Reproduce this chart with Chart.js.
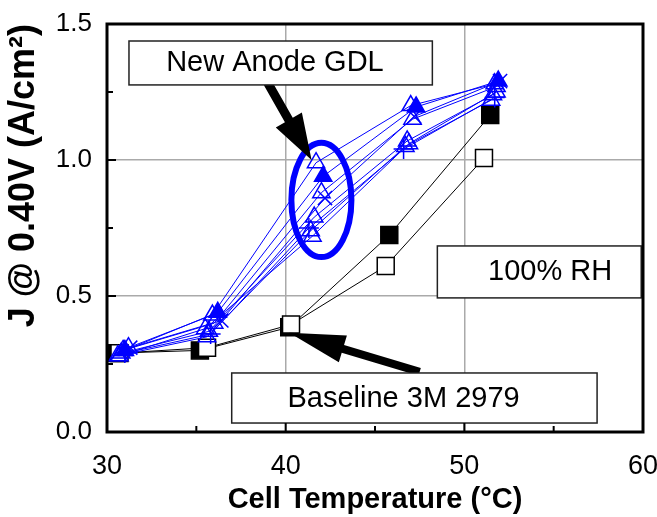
<!DOCTYPE html>
<html><head><meta charset="utf-8">
<script src="https://cdn.jsdelivr.net/npm/chart.js@4/dist/chart.umd.min.js"></script>
<style>html,body{margin:0;padding:0;background:#fff}#wrap{width:657px;height:517px}</style>
</head><body><div id="wrap"><canvas id="c" width="657" height="517"></canvas></div>
<script>
// ---- data (Cell temperature °C, J @ 0.40 V in A/cm²) ----
const xTicks = [30, 40, 50, 60];
const yTicks = [0.0, 0.5, 1.0, 1.5];

// New anode GDL runs (blue)
const gdl1X = [31.0, 36.2, 42.1, 47.3, 51.9], gdl1Y = [0.30, 0.44, 0.94, 1.195, 1.29]; // filled triangle
const gdl2X = [31.2, 35.9, 41.7, 47.0, 51.7], gdl2Y = [0.31, 0.43, 0.99, 1.20, 1.28];
const gdl3X = [30.9, 36.0, 42.0, 47.1, 51.8], gdl3Y = [0.30, 0.40, 0.88, 1.15, 1.27];
const gdl4X = [31.3, 36.4, 42.2, 47.2, 52.0], gdl4Y = [0.31, 0.41, 0.86, 1.16, 1.29]; // x marks
const gdl5X = [30.8, 35.7, 41.6, 46.8, 51.6], gdl5Y = [0.29, 0.37, 0.79, 1.07, 1.24];
const gdl6X = [30.6, 35.6, 41.4, 46.7, 51.5], gdl6Y = [0.28, 0.35, 0.74, 1.05, 1.22];
const gdl7X = [31.0, 35.8, 41.3, 46.6, 51.7], gdl7Y = [0.29, 0.36, 0.75, 1.04, 1.23]; // + marks
const gdl8X = [30.7, 35.5, 41.5, 46.9, 51.8], gdl8Y = [0.28, 0.38, 0.72, 1.06, 1.25];

// Baseline 3M 2979 (black)
const baseOpenX = [30.7, 35.6, 40.3, 45.6, 51.1], baseOpenY = [0.29, 0.31, 0.395, 0.61, 1.007];
const baseFillX = [30.5, 35.2, 40.2, 45.8, 51.45], baseFillY = [0.29, 0.30, 0.385, 0.724, 1.165];

// annotation labels
const labelAnode = 'New Anode GDL', labelRH = '100% RH', labelBase = 'Baseline 3M 2979';

const pts = (xs, ys) => xs.map((x, i) => ({x, y: ys[i]}));
const BLUE = '#0000ff';
function blue(xs, ys, style, filled) {
  return {data: pts(xs, ys), showLine: true, borderColor: BLUE, borderWidth: 1,
    pointStyle: style, pointRadius: 10, pointBorderWidth: 1.5,
    pointBackgroundColor: filled ? BLUE : 'rgba(0,0,0,0)', pointBorderColor: BLUE};
}
function black(xs, ys, filled) {
  return {data: pts(xs, ys), showLine: true, borderColor: '#000', borderWidth: 1,
    pointStyle: 'rect', pointRadius: 12, pointBorderWidth: 1.5,
    pointBackgroundColor: filled ? '#000' : '#fff', pointBorderColor: '#000'};
}

const FONT = "'Liberation Sans', Arial, sans-serif";

const deco = {
  id: 'deco',
  afterDatasetsDraw(chart) {
    const {ctx, scales: {x, y}} = chart;
    const X = v => x.getPixelForValue(v), Y = v => y.getPixelForValue(v);
    ctx.save();
    // ellipse
    ctx.strokeStyle = BLUE; ctx.lineWidth = 6;
    ctx.beginPath();
    ctx.ellipse(X(42.0), Y(0.853), X(42.0 + 1.68) - X(42.0), Y(0.853) - Y(0.853 + 0.21), 0, 0, 2 * Math.PI);
    ctx.stroke();
    // arrows
    function arrow(x0, y0, x1, y1, shaftW, headL, headW) {
      const ax = X(x0), ay = Y(y0), bx = X(x1), by = Y(y1);
      const ang = Math.atan2(by - ay, bx - ax), len = Math.hypot(bx - ax, by - ay);
      ctx.save(); ctx.translate(ax, ay); ctx.rotate(ang);
      ctx.fillStyle = '#000'; ctx.beginPath();
      ctx.moveTo(0, -shaftW / 2); ctx.lineTo(len - headL, -shaftW / 2);
      ctx.lineTo(len - headL, -headW / 2); ctx.lineTo(len, 0);
      ctx.lineTo(len - headL, headW / 2); ctx.lineTo(len - headL, shaftW / 2);
      ctx.lineTo(0, shaftW / 2); ctx.closePath(); ctx.fill();
      ctx.restore();
    }
    arrow(39.0, 1.283, 41.45, 1.0, 9, 46, 30);
    arrow(47.5, 0.221, 40.2, 0.365, 8, 56, 28);
    // boxes
    function box(x0, x1, y0, y1, text, tx, ty) {
      const l = X(x0), r = X(x1), t = Y(y0), b = Y(y1);
      ctx.fillStyle = '#fff'; ctx.fillRect(l, t, r - l, b - t);
      ctx.strokeStyle = '#222'; ctx.lineWidth = 1.5; ctx.strokeRect(l, t, r - l, b - t);
      ctx.fillStyle = '#000'; ctx.font = '29px ' + FONT;
      ctx.textAlign = 'center'; ctx.textBaseline = 'middle';
      ctx.fillText(text, X(tx), Y(ty));
    }
    box(31.23, 48.21, 1.4375, 1.276, labelAnode, 39.4, 1.357);
    box(48.49, 59.9, 0.684, 0.493, labelRH, 54.8, 0.588);
    box(36.98, 57.43, 0.217, 0.033, labelBase, 46.6, 0.121);
    ctx.restore();
  },
  afterDraw(chart) {
    const {ctx, chartArea: a, scales: {x, y}} = chart;
    ctx.save();
    ctx.strokeStyle = '#000'; ctx.lineWidth = 3;
    ctx.strokeRect(a.left, a.top, a.right - a.left, a.bottom - a.top);
    ctx.lineWidth = 2;
    for (let v = 35; v < 60; v += 5) {
      const px = x.getPixelForValue(v), L = v % 10 === 0 ? 9 : 6;
      ctx.beginPath(); ctx.moveTo(px, a.bottom); ctx.lineTo(px, a.bottom - L); ctx.stroke();
    }
    for (let v = 0.25; v < 1.5; v += 0.25) {
      const py = y.getPixelForValue(v), L = Math.abs(v % 0.5) < 1e-6 ? 9 : 6;
      ctx.beginPath(); ctx.moveTo(a.left, py); ctx.lineTo(a.left + L, py); ctx.stroke();
    }
    ctx.restore();
  }
};

new Chart(document.getElementById('c'), {
  type: 'scatter',
  data: {datasets: [
    blue(gdl1X, gdl1Y, 'triangle', true),
    blue(gdl2X, gdl2Y, 'triangle', false),
    blue(gdl3X, gdl3Y, 'triangle', false),
    blue(gdl4X, gdl4Y, 'crossRot', false),
    blue(gdl5X, gdl5Y, 'triangle', false),
    blue(gdl6X, gdl6Y, 'triangle', false),
    blue(gdl7X, gdl7Y, 'cross', false),
    blue(gdl8X, gdl8Y, 'triangle', false),
    black(baseOpenX, baseOpenY, false),
    black(baseFillX, baseFillY, true)
  ]},
  options: {
    responsive: false, animation: false, devicePixelRatio: 1,
    layout: {padding: {left: 0, right: 14, top: 24, bottom: 0}},
    plugins: {legend: {display: false}, tooltip: {enabled: false}},
    scales: {
      x: {min: 30, max: 60,
        afterFit: s => { s.height = 85; s.paddingLeft = 0; s.paddingRight = 0; },
        afterBuildTicks: s => { s.ticks = [30,35,40,45,50,55,60].map(v => ({value: v})); },
        ticks: {padding: 18, color: '#000', font: {family: FONT, size: 27},
          callback: v => xTicks.includes(v) ? String(v) : ''},
        grid: {drawTicks: false, lineWidth: 1.5,
          color: c => (c.tick && (c.tick.value === 40 || c.tick.value === 50)) ? '#aaa' : 'rgba(0,0,0,0)'},
        border: {display: false},
        title: {display: true, text: 'Cell Temperature (°C)', color: '#000',
          font: {family: FONT, size: 29, weight: 'bold'}, padding: {top: 0, bottom: 0}}
      },
      y: {min: 0, max: 1.5,
        afterFit: s => { s.width = 107; s.paddingTop = 0; s.paddingBottom = 0; },
        afterBuildTicks: s => { s.ticks = [0,0.25,0.5,0.75,1,1.25,1.5].map(v => ({value: v})); },
        ticks: {padding: 15, color: '#000', font: {family: FONT, size: 26},
          callback: v => yTicks.includes(v) ? v.toFixed(1) : ''},
        grid: {drawTicks: false, lineWidth: 1.5,
          color: c => (c.tick && (c.tick.value === 0.5 || c.tick.value === 1)) ? '#aaa' : 'rgba(0,0,0,0)'},
        border: {display: false},
        title: {display: true, text: 'J @ 0.40V (A/cm²)', color: '#000', align: 'end',
          font: {family: FONT, size: 36, weight: 'bold'}, padding: {top: 2, bottom: 0}}
      }
    }
  },
  plugins: [deco]
});
</script></body></html>
